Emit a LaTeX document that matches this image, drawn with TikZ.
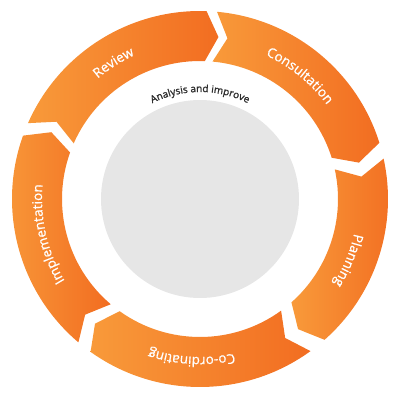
\documentclass[tikz,border=0pt]{standalone}
\usepackage{fontspec}
\usepackage{xcolor}
\usepackage{tikz}
\usetikzlibrary{decorations.text}
\newfontfamily\ringfamily{Open Sans}[FakeBold=0.8]
\newfontfamily\hubfamily{Open Sans}[FakeBold=1.6]
\newcommand\segfont{\ringfamily\fontsize{13.5}{16}\selectfont}
\newcommand\hubfont{\hubfamily\fontsize{10}{12}\selectfont}
\definecolor{orangelight}{HTML}{F89A3A}
\definecolor{orangedark}{HTML}{F26D21}
\definecolor{graydisc}{HTML}{E6E6E6}
\definecolor{graytext}{HTML}{2E2E2E}
\tikzset{segment/.style={left color=orangelight,right color=orangedark},
ringtext/.style={decorate,decoration={text along path,text align=center,
 text color=white,text={|\segfont|#1}}},
hubtext/.style={decorate,decoration={text along path,text align=center,
 text color=graytext,text={|\hubfont|#1}}}}

\begin{document}
\begin{tikzpicture}[x=1bp,y=1bp]
\useasboundingbox (-200,-201) rectangle (200,199);
\fill[graydisc] (0,0) circle[radius=99];
\foreach \a/\b in {84.8/17.4,12.4/-48.5,-54/-125.6,-130.3/-199.7,156.2/88} {
 \path[segment] (\a:188) arc[start angle=\a,end angle=\b,radius=188]
  -- ({\b-4.5}:163) -- (\b:138) arc[start angle=\b,end angle=\a,radius=138]
  -- ({\a-4.5}:163) -- cycle;
}
\path[ringtext=Consultation] (96:158) arc[start angle=96,end angle=6,radius=158];
\path[ringtext=Planning] (22.5:158) arc[start angle=22.5,end angle=-67.5,radius=158];
\path[ringtext=Co-ordinating] (-48:158) arc[start angle=-48,end angle=-138,radius=158];
\path[ringtext=Implementation] (-122:158) arc[start angle=-122,end angle=-212,radius=158];
\path[ringtext=Review] (167.4:158) arc[start angle=167.4,end angle=77.4,radius=158];
\path[hubtext=Analysis and improve] (150:107) arc[start angle=150,end angle=30,radius=107];
\end{tikzpicture}
\end{document}
